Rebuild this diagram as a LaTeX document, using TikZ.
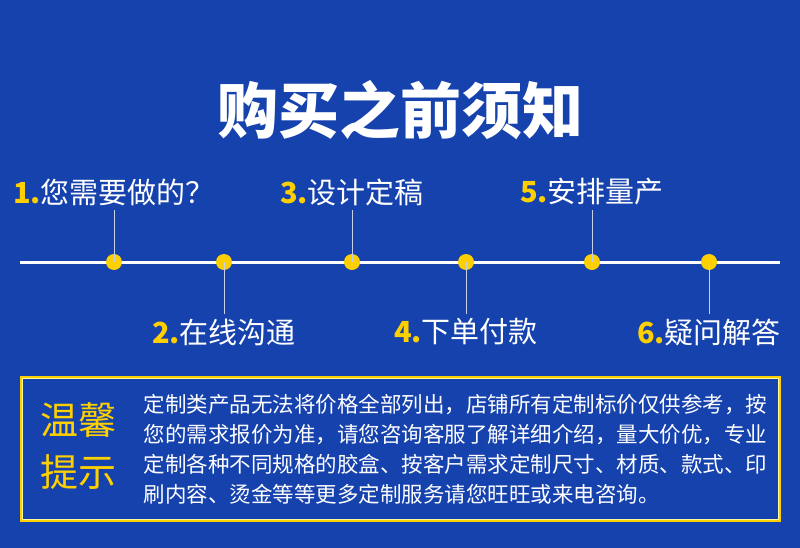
\documentclass[tikz,border=0pt]{standalone}
\usepackage{fontspec}
\newfontfamily\cjk{Noto Sans CJK SC}
\usepackage{tikz}
\usetikzlibrary{positioning}

\definecolor{bgblue}{HTML}{1642AE}
\definecolor{dotyellow}{HTML}{FFD000}
\definecolor{stemgrey}{HTML}{C8D0E8}

\begin{document}
\begin{tikzpicture}[x=1pt, y=-1pt,
    dot/.style={circle, fill=dotyellow, inner sep=0pt, minimum size=16pt},
    steplabel/.style={font=\cjk\fontsize{29}{32}\selectfont, text=white, inner sep=0pt},
    stem/.style={draw=stemgrey, line width=1pt}]
      \fill[bgblue] (0,0) rectangle (800,548);
      \useasboundingbox (0,0) rectangle (800,548);
      % title
      \node[font=\cjk\bfseries\fontsize{61}{64}\selectfont, text=white] (title) at (400,110) {购买之前须知};
      % timeline
      \coordinate (lstart) at (20,262);
      \coordinate (lend) at (780,262);
      \draw[white, line width=3pt] (lstart) -- (lend);
      \node[dot] (d1) at (114,262) {};
      \node[dot] (d2) at (224,262) {};
      \node[dot] (d3) at (352,262) {};
      \node[dot] (d4) at (466,262) {};
      \node[dot] (d5) at (592,262) {};
      \node[dot] (d6) at (709,262) {};
      \node[steplabel] (s1) at (114,192) {\textcolor{dotyellow}{\bfseries 1.}您需要做的？};
      \node[steplabel] (s3) at (352,192) {\textcolor{dotyellow}{\bfseries 3.}设计定稿};
      \node[steplabel] (s5) at (592,192) {\textcolor{dotyellow}{\bfseries 5.}安排量产};
      \node[steplabel] (s2) at (224,332) {\textcolor{dotyellow}{\bfseries 2.}在线沟通};
      \node[steplabel] (s4) at (466,332) {\textcolor{dotyellow}{\bfseries 4.}下单付款};
      \node[steplabel] (s6) at (709,332) {\textcolor{dotyellow}{\bfseries 6.}疑问解答};
      \draw[stem] (d1.center) -- (114,210);
      \draw[stem] (d3.center) -- (352,210);
      \draw[stem] (d5.center) -- (592,210);
      \draw[stem] (d2.center) -- (224,314);
      \draw[stem] (d4.center) -- (466,314);
      \draw[stem] (d6.center) -- (709,314);
      % notice box
      \draw[dotyellow, line width=2.5pt] (21,377) rectangle (780,521);
      \draw[yellow!40, line width=0.8pt] (22.8,378.8) rectangle (778.2,519.2);
      \node[font=\cjk\fontsize{38}{52}\selectfont, text=dotyellow, align=center] (tip) at (78,446) {温馨\\提示};
      \node[font=\cjk\fontsize{21.5}{30}\selectfont, text=white, align=left, anchor=west] (note) at (140,449)
        {定制类产品无法将价格全部列出，店铺所有定制标价仅供参考，按\\
         您的需求报价为准，请您咨询客服了解详细介绍，量大价优，专业\\
         定制各种不同规格的胶盒、按客户需求定制尺寸、材质、款式、印\\
         刷内容、烫金等等更多定制服务请您旺旺或来电咨询。};
    \end{tikzpicture}
\end{document}
